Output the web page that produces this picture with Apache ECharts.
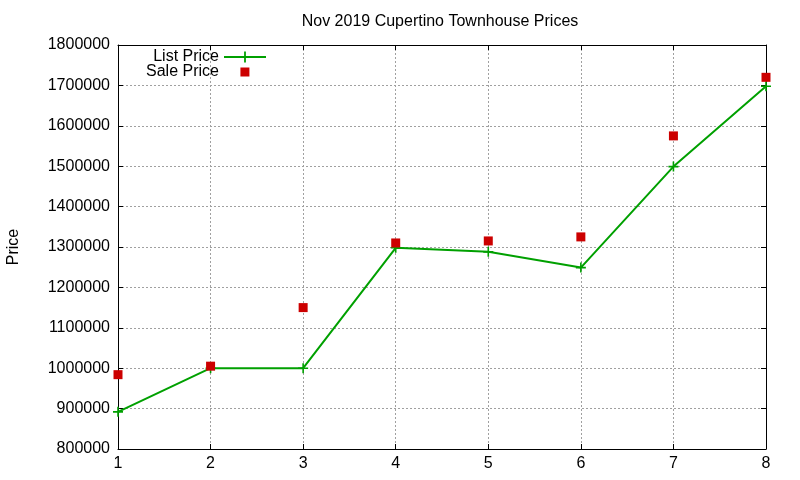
<!DOCTYPE html>
<html>
<head>
<meta charset="utf-8">
<script src="https://cdn.jsdelivr.net/npm/echarts@6/dist/echarts.min.js"></script>
<style>
    html, body { margin: 0; padding: 0; background: #fff; }
    #chart { width: 800px; height: 480px; }
</style>
</head>
<body>
<div id="chart"></div>
<script>
const listColor = '#00a000';
const saleColor = '#cc0000';
const fontFamily = '"Liberation Sans", Arial, sans-serif';

const chartTitle = 'Nov 2019 Cupertino Townhouse Prices';
const houseIndex = [1, 2, 3, 4, 5, 6, 7, 8];
const listPrice = [892000, 1000000, 1000000, 1298000, 1288000, 1249000, 1499000, 1698000];
const salePrice = [984000, 1005000, 1150000, 1310000, 1315000, 1325000, 1575000, 1720000];

const plusSymbol = 'path://M0.42,0H0.58V0.42H1V0.58H0.58V1H0.42V0.58H0V0.42H0.42Z';
const squareIcon = 'path://M0,0H1V1H0Z';

function pairs(ys) {
    return houseIndex.map(function (x, i) {
        return [x, ys[i]];
    });
}

const chart = echarts.init(document.getElementById('chart'));

const gridLine = {
    show: true,
    lineStyle: { color: '#a0a0a0', type: [2, 2], width: 1 }
};
const frameLine = { show: true, onZero: false, lineStyle: { color: '#000', width: 1 } };
const innerTick = { show: true, inside: true, length: 5, lineStyle: { color: '#000' } };
const labelStyle = { color: '#000', fontSize: 16, fontFamily: fontFamily };

const option = {
    animation: false,
    backgroundColor: '#fff',
    title: {
        text: chartTitle,
        left: 435,
        top: 9,
        textAlign: 'center',
        textStyle: { color: '#000', fontSize: 16, fontWeight: 'normal', fontFamily: fontFamily }
    },
    legend: [{
        data: ['List Price'],
        right: 533,
        top: 49,
        padding: 0,
        align: 'right',
        itemWidth: 42,
        itemHeight: 14,
        selectedMode: false,
        textStyle: labelStyle
    }, {
        data: [{ name: 'Sale Price', icon: squareIcon }],
        left: 146,
        top: 64,
        padding: 0,
        align: 'right',
        itemWidth: 42,
        itemHeight: 9,
        selectedMode: false,
        textStyle: labelStyle
    }],
    grid: {
        left: 118,
        right: 34,
        top: 45,
        bottom: 31,
        containLabel: false,
        outerBoundsMode: 'none'
    },
    xAxis: [{
        type: 'value',
        min: 1,
        max: 8,
        interval: 1,
        axisLine: frameLine,
        axisTick: innerTick,
        axisLabel: Object.assign({ margin: 7 }, labelStyle),
        splitLine: gridLine
    }, {
        type: 'value',
        position: 'top',
        min: 1,
        max: 8,
        interval: 1,
        axisLine: frameLine,
        axisTick: innerTick,
        axisLabel: { show: false },
        splitLine: { show: false }
    }],
    yAxis: [{
        type: 'value',
        min: 800000,
        max: 1800000,
        interval: 100000,
        name: 'Price',
        nameLocation: 'middle',
        nameGap: 96,
        nameRotate: 90,
        nameTextStyle: labelStyle,
        axisLine: frameLine,
        axisTick: innerTick,
        axisLabel: Object.assign({
            margin: 8,
            formatter: function (value) {
                return String(value);
            }
        }, labelStyle),
        splitLine: gridLine
    }, {
        type: 'value',
        position: 'right',
        min: 800000,
        max: 1800000,
        interval: 100000,
        axisLine: frameLine,
        axisTick: innerTick,
        axisLabel: { show: false },
        splitLine: { show: false }
    }],
    series: [{
        name: 'List Price',
        type: 'line',
        xAxisIndex: 0,
        yAxisIndex: 0,
        data: pairs(listPrice),
        symbol: plusSymbol,
        symbolSize: 10,
        showAllSymbol: true,
        clip: false,
        lineStyle: { color: listColor, width: 2 },
        itemStyle: { color: listColor },
        z: 2
    }, {
        name: 'Sale Price',
        type: 'scatter',
        xAxisIndex: 0,
        yAxisIndex: 0,
        data: pairs(salePrice),
        symbol: 'rect',
        symbolSize: 9,
        clip: false,
        itemStyle: { color: saleColor, opacity: 1 },
        z: 3
    }]
};

chart.setOption(option);
</script>
</body>
</html>
